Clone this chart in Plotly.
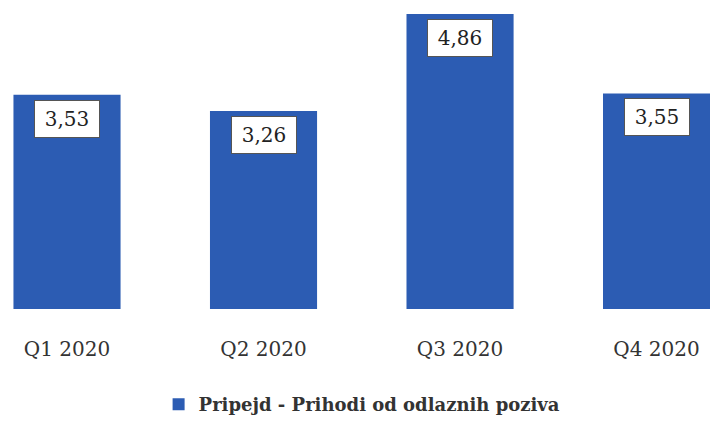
import plotly.graph_objects as go

# data
quarters = ['Q1 2020', 'Q2 2020', 'Q3 2020', 'Q4 2020']
values = [3.53, 3.26, 4.86, 3.55]
series_name = 'Pripejd - Prihodi od odlaznih poziva'

blue = '#2c5cb3'
serif = 'DejaVu Serif'

fig = go.Figure()
fig.add_trace(go.Bar(
    x=quarters, y=values, name=series_name,
    marker=dict(color=blue, line=dict(width=0)),
    width=0.545,
    showlegend=True,
))

# value labels in white boxes near the top of each bar
for q, v in zip(quarters, values):
    fig.add_annotation(
        x=q, y=v, yanchor='top', yshift=-5,
        text=f'{v:.2f}'.replace('.', ','),
        showarrow=False,
        font=dict(family=serif, size=20, color='#222'),
        width=56, height=28,
        bgcolor='white', bordercolor='#555', borderwidth=1, borderpad=4,
    )

fig.update_layout(
    width=710, height=423,
    margin=dict(l=0, r=0, t=0, b=110),
    plot_bgcolor='white', paper_bgcolor='white',
    showlegend=True,
    legend=dict(
        orientation='h', x=0.51, xanchor='center', y=-0.31, yanchor='middle',
        font=dict(family=serif, size=18, color='#333', weight='bold'),
    ),
)
fig.update_xaxes(
    range=[-0.341, 3.272], showgrid=False, showline=False, zeroline=False,
    ticklabelstandoff=26,
    tickfont=dict(family=serif, size=20, color='#333'),
)
fig.update_yaxes(range=[0, 5.09], visible=False)

fig.write_html('out.html', config={'displayModeBar': False},
               post_script="document.body.style.margin='0';")
